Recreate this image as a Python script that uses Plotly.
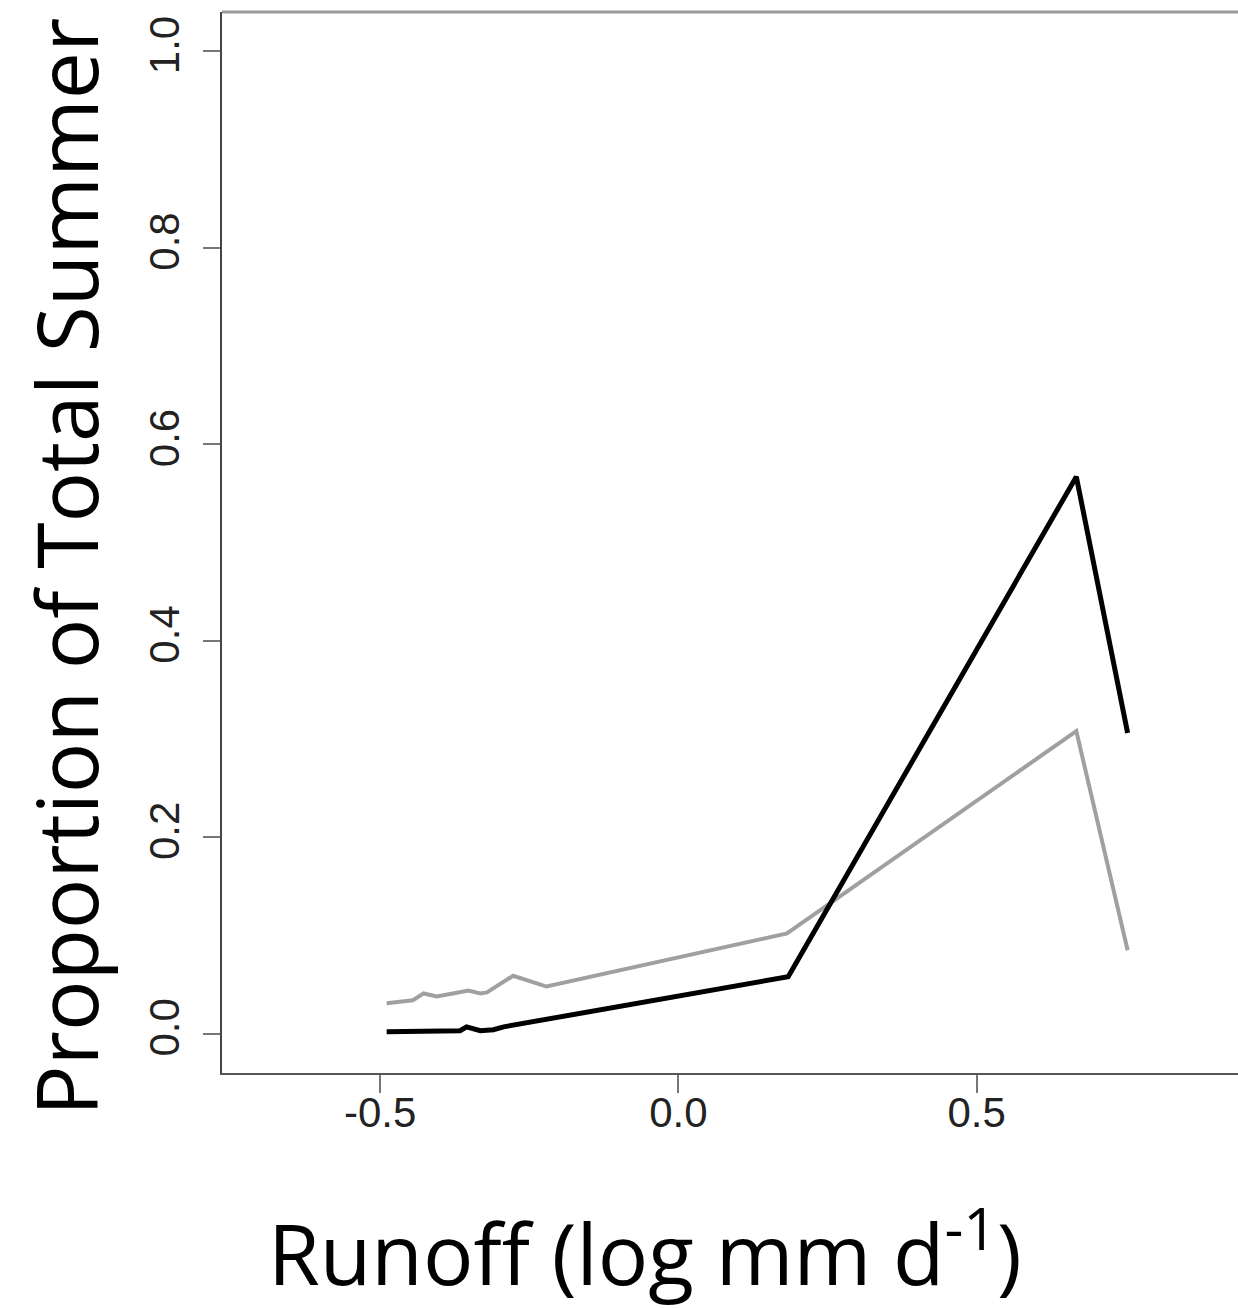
import plotly.graph_objects as go

# Runoff (log mm/d) and proportion of total summer for the two series
black_x = [-0.489, -0.366, -0.355, -0.332, -0.310, -0.293, 0.184, 0.667, 0.753]
black_y = [0.002, 0.003, 0.007, 0.003, 0.004, 0.007, 0.058, 0.567, 0.306]

grey_x = [-0.489, -0.445, -0.427, -0.405, -0.378, -0.352, -0.332, -0.321, -0.277, -0.221, 0.182, 0.667, 0.753]
grey_y = [0.031, 0.034, 0.041, 0.038, 0.041, 0.044, 0.041, 0.042, 0.059, 0.048, 0.102, 0.308, 0.085]

x_ticks = [-0.5, 0.0, 0.5]
x_tick_text = ["-0.5", "0.0", "0.5"]
y_ticks = [0.0, 0.2, 0.4, 0.6, 0.8, 1.0]
y_tick_text = ["0.0", "0.2", "0.4", "0.6", "0.8", "1.0"]

fig = go.Figure()
fig.add_trace(go.Scatter(x=grey_x, y=grey_y, mode="lines",
                         line=dict(color="#a0a0a0", width=4), showlegend=False))
fig.add_trace(go.Scatter(x=black_x, y=black_y, mode="lines",
                         line=dict(color="#000000", width=5), showlegend=False))

tick_font = dict(family="Liberation Sans, Arial, sans-serif", size=42, color="#222222")
title_font = "Open Sans, Noto Sans, sans-serif"

fig.update_layout(
    width=1238, height=1308,
    margin=dict(l=222, r=0, t=12, b=235),
    paper_bgcolor="white", plot_bgcolor="white",
    xaxis=dict(range=[-0.765, 0.938], tickvals=x_ticks, ticktext=x_tick_text,
               showgrid=False, zeroline=False, showline=True, linecolor="#555555",
               linewidth=2, ticks="outside", ticklen=18, tickwidth=2,
               tickcolor="#777777", tickfont=tick_font, ticklabelstandoff=-16),
    yaxis=dict(range=[-0.04, 1.04], tickvals=y_ticks, ticktext=y_tick_text,
               showgrid=False, zeroline=False, showline=True, linecolor="#444444",
               linewidth=2, ticks="outside", ticklen=17, tickwidth=2,
               tickcolor="#777777", tickfont=tick_font, tickangle=-90,
               ticklabelstandoff=7),
    shapes=[dict(type="line", xref="paper", yref="paper", x0=0, x1=1, y0=1, y1=1,
                 line=dict(color="#999999", width=3))],
    annotations=[
        dict(text="Proportion of Total Summer", xref="paper", yref="paper",
             x=-0.1535, y=0.477, xanchor="center", yanchor="middle", textangle=-90,
             showarrow=False, font=dict(family=title_font, size=84, color="black")),
        dict(text="Runoff (log mm d<sup>-1</sup>)", xref="paper", yref="paper",
             x=0.416, y=-0.165, xanchor="center", yanchor="middle",
             showarrow=False, font=dict(family=title_font, size=84, color="black")),
    ],
)

fig.write_html("out.html")
